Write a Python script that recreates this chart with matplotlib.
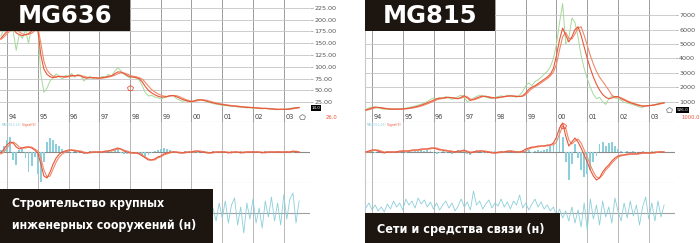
import matplotlib
matplotlib.use('Agg')
import matplotlib.pyplot as plt
import matplotlib.font_manager as fm
import numpy as np
from matplotlib.patches import Rectangle
from matplotlib.transforms import blended_transform_factory as btf

# ---------------- data ----------------
years = [1994, 1995, 1996, 1997, 1998, 1999, 2000, 2001, 2002, 2003]
start_year = 1993.8
step = 0.1

title_left = "MG636"
title_right = "MG815"
caption_left = "Строительство крупных\nинженерных сооружений (н)"
caption_right = "Сети и средства связи (н)"

price_ticks_left = [25, 50, 75, 100, 125, 150, 175, 200, 225]
price_ticks_right = [1000, 2000, 3000, 4000, 5000, 6000, 7000]

# MG636 price (green) and two moving averages (red)
price_left = [165, 180,
    192, 200, 175, 135, 170, 160, 178, 150, 185, 195,
    185, 85, 46, 55, 70, 78, 85, 80, 74, 82,
    80, 86, 78, 84, 82, 70, 76, 80, 74, 78,
    75, 80, 78, 84, 80, 90, 98, 92, 85, 80,
    76, 80, 76, 72, 60, 45, 38, 40, 36, 35,
    32, 34, 36, 38, 40, 33, 30, 27, 28, 26,
    26, 29, 30, 31, 28, 27, 24, 22, 21, 20,
    18, 18, 17, 17, 16, 15, 15, 14, 13, 13,
    13, 13, 12, 11, 12, 11, 10, 10, 9, 10,
    10, 11, 12, 13, 14, 14]
ma_fast_left = [160, 168,
    175, 182, 180, 172, 168, 166, 168, 170, 175, 182,
    180, 125, 95, 84, 79, 77, 78, 80, 79, 78,
    80, 82, 81, 82, 81, 77, 76, 77, 77, 76,
    76, 77, 78, 80, 81, 85, 89, 89, 86, 82,
    79, 78, 77, 75, 68, 58, 50, 45, 41, 38,
    36, 36, 37, 39, 39, 37, 34, 31, 29, 27,
    26, 28, 30, 30, 29, 27, 25, 24, 22, 21,
    20, 19, 18, 17, 17, 16, 15, 15, 14, 14,
    13, 13, 12, 12, 12, 11, 11, 10, 10, 10,
    10, 10, 11, 12, 13, 14]
ma_slow_left = [158, 163,
    170, 176, 180, 178, 174, 170, 168, 169, 171, 176,
    185, 150, 112, 93, 85, 80, 80, 79, 80, 79,
    79, 80, 81, 81, 81, 80, 78, 77, 77, 77,
    76, 76, 77, 78, 80, 82, 85, 87, 87, 85,
    82, 80, 79, 77, 74, 67, 59, 52, 47, 43,
    40, 38, 37, 38, 39, 39, 37, 34, 31, 29,
    27, 27, 28, 30, 30, 29, 27, 25, 24, 22,
    21, 20, 19, 18, 17, 17, 16, 15, 15, 14,
    14, 13, 13, 12, 12, 12, 11, 11, 10, 10,
    10, 10, 10, 11, 12, 13]
macd_left = [-1, 3,
    7, 10, 9, 5, 3, 4, 5, 5, 4, 2,
    -1, -12, -24, -26, -20, -12, -6, -2, 0, 1,
    2, 2, 1, 1, 0, -1, -1, 0, 0, 0,
    0, 0, 1, 1, 2, 3, 4, 3, 1, 0,
    -1, -1, -1, -2, -4, -6, -8, -8, -7, -5,
    -4, -2, -1, 0, 0, 0, -1, -1, 0, 0,
    0, 1, 1, 0, 0, -1, -1, 0, 0, 0,
    0, 0, -1, 0, 0, 0, -1, 0, 0, 0,
    0, 0, 0, -1, 0, 0, 0, 0, 0, 0,
    0, 0, 0, 1, 0, 0]
signal_left = [-2, 0,
    4, 8, 10, 8, 5, 4, 4, 5, 5, 3,
    1, -6, -18, -25, -24, -17, -10, -5, -2, 0,
    1, 2, 2, 1, 1, 0, -1, -1, 0, 0,
    0, 0, 0, 1, 1, 2, 3, 3, 2, 1,
    0, -1, -1, -1, -3, -5, -7, -8, -8, -6,
    -5, -3, -2, -1, 0, 0, 0, -1, -1, 0,
    0, 0, 1, 1, 0, 0, -1, -1, 0, 0,
    0, 0, 0, -1, 0, 0, 0, -1, 0, 0,
    0, 0, 0, 0, -1, 0, 0, 0, 0, 0,
    0, 0, 0, 0, 1, 0]
hist_left = [2, 6,
    12, 15, -8, -13, 2, 3, -6, -20, -14, -5,
    -22, -30, -10, 10, 14, 12, 8, 6, 3, 2,
    1, -1, 2, -1, 1, -2, -1, 1, 0, -1,
    1, 0, 1, 2, 1, 2, 3, -1, -2, -2,
    -1, 0, -1, -2, -4, -5, -3, -1, 1, 2,
    3, 4, 3, 2, 1, -1, -1, 0, 1, 0,
    1, 1, -1, 0, 1, -1, 0, 1, -1, 0,
    1, 0, -1, 1, 0, -1, 1, 0, -1, 0,
    1, 0, -1, 0, 1, 0, -1, 0, 1, 0,
    0, 1, 0, -1, 1, 0]
osc_left = [3, -5,
    8, -10, 6, -4, 12, -8, 5, -12, 9, -3,
    -15, 10, -6, 14, -9, 4, -11, 7, -2, 10,
    -7, 5, -10, 8, -3, 12, -6, 3, -9, 6,
    -4, 9, -12, 5, -2, 11, -7, 4, -10, 6,
    -3, 8, -11, 4, -6, 10, -2, 7, -9, 5,
    -4, 9, -7, 3, -10, 6, -5, 8, -3, 4,
    -6, 7, -2, 5, -8, 3, -4, 5, -8, 10,
    -5, 12, -10, 8, 15, -12, 6, -20, 10, -6,
    14, -10, 5, -15, 12, -4, 16, -8, 10, -12,
    18, -6, 14, 20, -10, 12]

# MG815
price_right = [450, 560,
    640, 600, 560, 500, 470, 480, 460, 470, 490, 480,
    520, 540, 600, 640, 700, 760, 820, 900, 1000, 1150,
    1250, 1150, 1300, 1200, 1350, 1250, 1150, 1250, 1350, 1450,
    1300, 1000, 1100, 1250, 1350, 1450, 1400, 1300, 1250, 1200,
    1300, 1350, 1400, 1350, 1450, 1400, 1350, 1300, 1450, 1700,
    2100, 2300, 2100, 2400, 2500, 2700, 2900, 3100, 3400, 4000,
    5000, 6500, 7800, 5000, 5400, 6800, 6500, 5500, 4200, 3300,
    2600, 2000, 1500, 1200, 1300, 1000, 800, 1200, 1400, 1250,
    1200, 1100, 950, 900, 850, 780, 700, 620, 600, 680,
    720, 760, 800, 850, 900, 950]
ma_fast_right = [420, 480,
    560, 620, 600, 560, 520, 490, 480, 470, 475, 480,
    490, 510, 540, 580, 630, 680, 750, 830, 920, 1000,
    1100, 1200, 1230, 1250, 1280, 1300, 1260, 1220, 1200, 1300,
    1420, 1250, 1080, 1150, 1250, 1330, 1380, 1360, 1300, 1260,
    1250, 1280, 1320, 1350, 1380, 1400, 1380, 1360, 1350, 1400,
    1600, 1850, 2000, 2100, 2250, 2400, 2550, 2700, 2900, 3300,
    4200, 5300, 6100, 5600, 5150, 5500, 6000, 6200, 5600, 4800,
    4000, 3300, 2700, 2200, 1800, 1500, 1300, 1200, 1250, 1350,
    1350, 1200, 1100, 1000, 920, 850, 780, 720, 680, 700,
    720, 740, 780, 830, 880, 920]
ma_slow_right = [400, 440,
    500, 560, 590, 580, 550, 520, 500, 485, 478, 478,
    482, 495, 515, 545, 585, 630, 690, 760, 840, 930,
    1020, 1110, 1180, 1220, 1250, 1280, 1280, 1250, 1220, 1240,
    1330, 1330, 1180, 1120, 1180, 1270, 1340, 1370, 1340, 1290,
    1260, 1260, 1290, 1330, 1360, 1385, 1390, 1370, 1355, 1370,
    1480, 1700, 1900, 2030, 2150, 2300, 2450, 2600, 2780, 3050,
    3600, 4600, 5500, 5800, 5400, 5350, 5700, 6100, 6200, 5600,
    4900, 4200, 3600, 3100, 2700, 2400, 2100, 1800, 1450, 1300,
    1320, 1270, 1170, 1060, 970, 890, 820, 760, 710, 700,
    710, 730, 760, 800, 850, 890]
macd_right = [0, 1,
    2, 2, 1, 0, -1, 0, 0, 0, 0, 1,
    1, 1, 1, 2, 2, 2, 3, 3, 3, 4,
    4, 3, 2, 2, 1, 1, 0, 0, 1, 1,
    2, 0, -1, 0, 1, 1, 1, 0, 0, -1,
    -1, 0, 0, 0, 1, 1, 0, 0, 0, 1,
    3, 4, 5, 5, 6, 6, 6, 7, 7, 9,
    15, 24, 29, 16, 6, 10, 14, 10, 4, -3,
    -10, -18, -24, -28, -26, -20, -16, -13, -9, -6,
    -4, -3, -3, -2, -2, -2, -2, -1, -1, -1,
    -1, -1, 0, 0, 0, 0]
signal_right = [0, 0,
    1, 2, 2, 1, 0, 0, 0, 0, 0, 0,
    1, 1, 1, 1, 2, 2, 2, 3, 3, 3,
    4, 4, 3, 2, 2, 1, 1, 0, 0, 1,
    1, 1, 0, 0, 0, 1, 1, 1, 0, 0,
    -1, -1, 0, 0, 0, 1, 1, 0, 0, 0,
    1, 3, 4, 5, 5, 6, 6, 6, 7, 7,
    10, 18, 26, 24, 12, 8, 11, 13, 9, 2,
    -5, -13, -20, -25, -26, -23, -18, -15, -11, -8,
    -5, -4, -3, -3, -2, -2, -2, -2, -1, -1,
    -1, -1, -1, 0, 0, 0]
hist_right = [0, 1,
    1, -1, 1, 0, -1, 1, 0, -1, 1, 0,
    1, -1, 1, 0, 1, 1, 2, 1, 2, 1,
    -1, -2, -1, 1, -1, 0, -2, 1, 2, 1,
    1, -2, -3, 1, 2, 1, -1, -1, 0, -1,
    1, 0, 1, -1, 1, 0, -1, 1, 0, 2,
    3, 2, -1, 1, 2, 1, 2, 3, 6, 10,
    18, 25, 15, -10, -28, -12, 8, -6, -18, -25,
    -22, -18, -10, -4, 8, 10, 6, 9, 10, 6,
    3, 1, -1, 1, 0, 1, -1, 0, 1, 0,
    0, 1, 0, -1, 1, 0]
osc_right = [5, 10,
    3, 8, 2, 6, 1, 9, 4, 12, 6, 10,
    3, 14, 8, 12, 5, 15, 9, 13, 6, 11,
    4, 10, 3, 8, 12, 5, 10, 2, 7, 14,
    6, 11, 3, 22, 8, 12, 4, 9, 13, 5,
    10, 7, 14, 6, 11, 4, 12, 8, 18, 5,
    10, 3, 9, 14, 6, 11, 4, 8, 2, 6,
    -3, 4, -5, 2, -8, 6, -10, 3, -14, 10,
    -17, 14, -6, 8, -12, 12, -4, 6, -10, 15,
    2, -8, 10, -5, 12, -3, 8, -12, 6, 16,
    -6, 10, -8, 12, -4, 8]

# signal markers
sig_left_t, sig_left_v = [1998.0], [55]
sig_right_t, sig_right_v = [2000.2], [26]
last_left_t, last_left_v = [2003.6], [-6]
last_right_t, last_right_v = [2003.65], [420]
tag_left, tag_right = "14.0", "926.0"
red_left, red_right = "26.0", "1000.0"

# ---------------- style ----------------
W, H = 700, 243
GREEN = '#a6d99a'
RED1 = '#e8573a'
RED2 = '#f08a6a'
CYAN = '#8ccfdb'
BOX = '#1c1510'
VGRID = '#9c9c9c'
HGRID = '#c4c4c4'
XL = (1993.772, 2003.854)

fig = plt.figure(figsize=(7, 2.43), dpi=100)


def pax(x0, y0, w, h):
    ax = fig.add_axes([x0 / W, 1 - (y0 + h) / H, w / W, h / H])
    ax.set_xlim(*XL)
    for s in ax.spines.values():
        s.set_visible(False)
    ax.set_xticks([])
    ax.set_yticks([])
    ax.patch.set_alpha(0)
    return ax


def panel(x0, price, maf, mas, ticks, ylim, fmt, macd, sig, hist, osc,
          sig_t, sig_v, sig_on_price, last_t, last_v, tag, tag_dy, redtxt, red_x, left_border):
    t = start_year + step * np.arange(len(price))
    axp = pax(x0, 0, 310, 122)
    axm = pax(x0, 122, 310, 61)
    axo = pax(x0, 183, 310, 60)

    # price
    axp.set_ylim(*ylim)
    axp.set_yticks(ticks)
    axp.set_yticklabels([fmt(v) for v in ticks])
    axp.yaxis.tick_right()
    axp.tick_params(axis='y', length=2.5, width=0.5, color='#999999', pad=0.5,
                    labelsize=4.6, labelcolor='#555555')
    axp.grid(axis='y', color=HGRID, lw=0.6)
    for yr in years:
        axp.axvline(yr, color=VGRID, lw=0.7, zorder=1)
        axp.text(yr + 0.05, 0.04, f"{yr % 100:02d}", transform=btf(axp.transData, axp.transAxes),
                 fontsize=4.8, color='#444444', va='center', ha='left')
    axp.axhline(ylim[0], color='#bbbbbb', lw=0.8)
    axp.plot(t, price, color=GREEN, lw=0.7, zorder=3)
    axp.plot(t, mas, color=RED2, lw=0.8, zorder=4)
    axp.plot(t, maf, color=RED1, lw=0.8, zorder=5)
    axp.plot(last_t, last_v, marker='p', ms=4, mfc='white', mec='#888888', mew=0.6, ls='none', zorder=6)
    axp.text(1.005, tag_dy, tag, transform=axp.transAxes, fontsize=3.0, color='white',
             ha='left', va='center', bbox=dict(boxstyle='square,pad=0.25', fc='black', ec='none'), zorder=7)
    axp.text(red_x, 0.04, redtxt, transform=axp.transAxes, fontsize=3.8, color='#e8573a',
             ha='left', va='center', clip_on=False)

    # MACD
    axm.set_ylim(-31, 30)
    for yr in years:
        axm.axvline(yr, color='#b8b8b8', lw=0.7, zorder=1)
    axm.axhline(0, color='#8a8a8a', lw=0.8, zorder=2)
    axm.axhline(-31, color='#c0c0c0', lw=0.8)
    axm.bar(t, hist, width=0.06, color=CYAN, zorder=3)
    axm.plot(t, sig, color=RED2, lw=0.8, zorder=4)
    axm.plot(t, macd, color=RED1, lw=0.8, zorder=5)
    t1 = axm.text(0.006, 0.95, "MACD(12,26)", transform=axm.transAxes, fontsize=2.2, color=CYAN, va='center')
    axm.annotate(" Signal(9)", xy=(1, 0.5), xycoords=t1, fontsize=2.2, color=RED1, va='center')

    # oscillator
    axo.set_ylim(-30, 30)
    for yr in years:
        axo.axvline(yr, color='#b8b8b8', lw=0.7, zorder=1)
    axo.axhline(0, color='#a0a0a0', lw=0.8, zorder=2)
    axo.plot(t, osc, color=CYAN, lw=0.6, zorder=3)

    tgt = axp if sig_on_price else axm
    tgt.plot(sig_t, sig_v, marker='p', ms=4, mfc='none', mec='#e8573a', mew=0.6, ls='none', zorder=6)

    if left_border:
        for a in (axp, axm, axo):
            a.spines['left'].set_visible(True)
            a.spines['left'].set_color('#c8c8c8')
            a.spines['left'].set_linewidth(0.8)
    return axp


panel(0, price_left, ma_fast_left, ma_slow_left, price_ticks_left, (-16.9, 241.5),
      lambda v: f"{v:.2f}", macd_left, signal_left, hist_left, osc_left,
      sig_left_t, sig_left_v, True, last_left_t, last_left_v, tag_left, 0.115, red_left, 1.05, False)
panel(365, price_right, ma_fast_right, ma_slow_right, price_ticks_right, (-417, 8055),
      lambda v: f"{v:d}", macd_right, signal_right, hist_right, osc_right,
      sig_right_t, sig_right_v, False, last_right_t, last_right_v, tag_right, 0.10, red_right, 1.02, True)


def box(x0, y0, w, h):
    fig.add_artist(Rectangle((x0 / W, 1 - (y0 + h) / H), w / W, h / H, transform=fig.transFigure,
                             facecolor=BOX, edgecolor='none', zorder=10))


# pick a condensed bold font if one is installed
def pick_condensed():
    best = None
    for f in fm.fontManager.ttflist:
        nm = f.name.lower()
        st = str(f.stretch).lower()
        if 'narrow' in nm or 'condensed' in nm or 'condensed' in st:
            w = f.weight if isinstance(f.weight, int) else {'bold': 700, 'heavy': 800, 'black': 900}.get(str(f.weight), 400)
            if best is None or abs(w - 700) < abs(best[0] - 700):
                best = (w, f.fname)
    return best[1] if best else None


cond = pick_condensed()
if cond:
    capprops = fm.FontProperties(fname=cond, size=10.5)
else:
    capprops = fm.FontProperties(family=['Roboto', 'DejaVu Sans'], weight='bold', size=10.5)

box(0, 0, 130, 31)
box(365, 0, 130, 31)
tl = fig.text(65 / W, 1 - 16 / H, title_left, fontsize=17.5, fontweight='bold', color='white',
              ha='center', va='center', zorder=11)
tr_ = fig.text(430 / W, 1 - 16 / H, title_right, fontsize=17.5, fontweight='bold', color='white',
               ha='center', va='center', zorder=11)

box(0, 189, 213, 54)
box(365, 213, 195, 30)
cl = fig.text(12 / W, 1 - 214 / H, caption_left, fontproperties=capprops, color='white',
              ha='left', va='center', linespacing=1.9, zorder=11)
cr = fig.text(377 / W, 1 - 229 / H, caption_right, fontproperties=capprops, color='white',
              ha='left', va='center', zorder=11)

# fit caption widths to the reference
fig.canvas.draw()
rend = fig.canvas.get_renderer()
for txt, target in ((cl, 186), (cr, 168)):
    w = txt.get_window_extent(rend).width
    txt.set_fontsize(txt.get_fontsize() * target / w)

fig.savefig('out.png', dpi=100)
